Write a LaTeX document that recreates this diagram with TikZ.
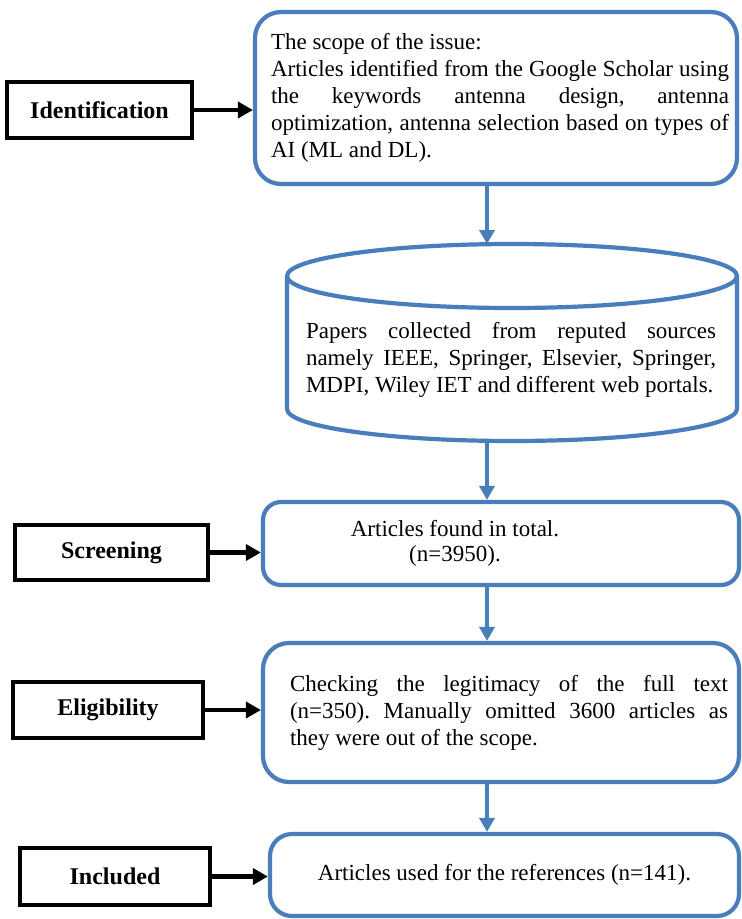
\documentclass[tikz,border=0pt]{standalone}
\usepackage{fontspec}
\setmainfont{Liberation Serif}
\usetikzlibrary{arrows.meta,calc}
\definecolor{flowblue}{RGB}{74,126,187}
\begin{document}
\frenchspacing
\begin{tikzpicture}[x=1pt,y=1pt,
  body/.style={font=\fontsize{23}{27}\selectfont},
  stage/.style={draw=black, line width=4.5pt, inner sep=0pt,
    font=\fontsize{24}{28}\selectfont\bfseries},
  blk/.style={draw=flowblue, line width=4.2pt, rounded corners=26pt,
    inner sep=0pt, fill=white, body},
  darrow/.style={draw=black, line width=4.2pt, -{Triangle[length=15pt,width=16pt]}},
  barrow/.style={draw=flowblue, line width=4.2pt, -{Triangle[length=14pt,width=15pt]}},
  cylline/.style={draw=flowblue, line width=4.2pt},
]
\useasboundingbox (0,0) rectangle (742,-919);
\fill[white] (0,0) rectangle (742,-919);
\tolerance=10000 \hbadness=10000 \hyphenpenalty=10000

% main flow boxes
\node[blk, minimum width=482, minimum height=172] (scope) at (496,-98)
  {\hspace*{8pt}\parbox{458pt}{%
   The scope of the issue:\\
   Articles identified from the Google Scholar using\linebreak
   the keywords antenna design, antenna\linebreak
   optimization, antenna selection based on types of\linebreak
   AI (ML and DL).}};

% database cylinder
\draw[cylline, fill=white] (287,-276) -- (287,-409)
  arc[start angle=180, end angle=360, x radius=225, y radius=32]
  -- (737,-276)
  arc[start angle=0, end angle=180, x radius=225, y radius=32] -- cycle;
\draw[cylline] (287,-276)
  arc[start angle=180, end angle=360, x radius=225, y radius=32];
\coordinate (cyltop) at (512,-244);
\coordinate (cylbot) at (512,-441);
\node[body, text width=410, align=justify, inner sep=0pt] (papers) at (511,-360)
  {Papers collected from reputed sources\linebreak
   namely IEEE, Springer, Elsevier, Springer,\linebreak
   MDPI, Wiley IET and different web portals.};

% text sits a little left of the box centre
\node[blk, rounded corners=18pt, minimum width=476, minimum height=83]
  (found) at (501,-543.5)
  {\hspace*{-92pt}\begin{tabular}{@{}c@{}}Articles found in total.\\[-2pt](n=3950).\end{tabular}};

\node[blk, minimum width=476, minimum height=139] (check) at (501,-712.5)
  {\hspace*{16pt}\parbox{438pt}{%
   Checking the legitimacy of the full text\linebreak
   (n=350). Manually omitted 3600 articles as\linebreak
   they were out of the scope.}};

\node[blk, rounded corners=22pt, minimum width=469, minimum height=82]
  (used) at (504.5,-875) {Articles used for the references (n=141).};

% stage labels
\node[stage, minimum width=185, minimum height=56] (ident) at (99.5,-110) {Identification};
\node[stage, minimum width=193, minimum height=55] (screen) at (111.5,-552.5) {Screening};
\node[stage, minimum width=190, minimum height=56] (elig) at (108,-710) {Eligibility};
\node[stage, minimum width=190, minimum height=57] (incl) at (115,-876.5) {Included};

% stage arrows
\draw[darrow] (ident.east) -- (ident.east -| scope.west);
\draw[darrow] (screen.east) -- (screen.east -| found.west);
\draw[darrow] (elig.east) -- (elig.east -| check.west);
\draw[darrow] (incl.east) -- (incl.east -| used.west);

% vertical flow
\coordinate (spine) at (487,0);
\draw[barrow] (spine |- scope.south) -- (spine |- cyltop);
\draw[barrow] (spine |- cylbot) -- (spine |- found.north);
\draw[barrow] (spine |- found.south) -- (spine |- check.north);
\draw[barrow] (spine |- check.south) -- (spine |- used.north);
\end{tikzpicture}
\end{document}
